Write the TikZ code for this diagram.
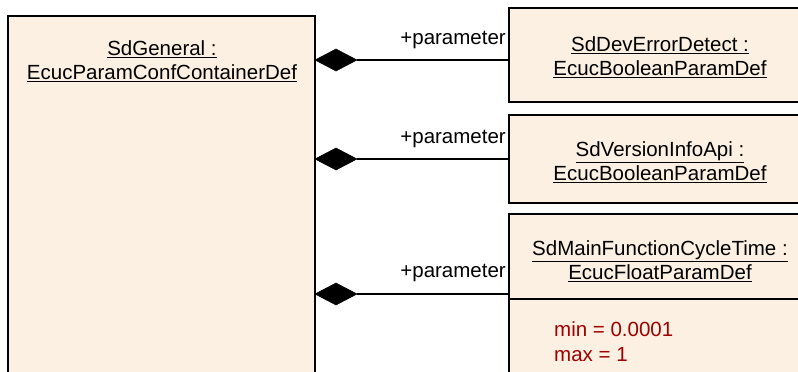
\documentclass[tikz,border=0pt]{standalone}
\usepackage{fontspec}
\setmainfont{Liberation Sans}
\definecolor{boxfill}{RGB}{251,240,225}
\definecolor{attr}{RGB}{160,0,0}
\begin{document}
\begin{tikzpicture}[x=1pt,y=-1pt,
  box/.style={draw=black, line width=1.8pt, fill=boxfill, anchor=north west, inner sep=0pt, outer sep=0pt},
  ttl/.style={font=\fontsize{20.5}{24}\selectfont, align=center, inner sep=0pt},
  role/.style={font=\fontsize{20.5}{24}\selectfont, anchor=east, inner sep=0pt},
  attrtxt/.style={font=\fontsize{20.5}{24}\selectfont, text=attr, anchor=west, inner sep=0pt},
  conn/.style={draw=black, line width=1.3pt},
  diam/.style={fill=black, draw=black, line width=0.5pt}]
\useasboundingbox (0,0) rectangle (798,372);
\clip (0,0) rectangle (798,372);
% boxes
\node[box, minimum width=307pt, minimum height=380pt] (gen) at (8,16) {};
\node[box, minimum width=310pt, minimum height=94pt] (dev) at (509,8) {};
\node[box, minimum width=310pt, minimum height=88pt] (ver) at (509,115) {};
\node[box, minimum width=310pt, minimum height=200pt] (mft) at (509,214) {};
\coordinate (divl) at (509,299);
\coordinate (divr) at (819,299);
\draw[line width=1.8pt] (divl) -- (divr);
% titles
\node[ttl] (gent) at (162,61) {\underline{SdGeneral :}\\\underline{EcucParamConfContainerDef}};
\node[ttl] (devt) at (660,57) {\underline{SdDevErrorDetect :}\\\underline{EcucBooleanParamDef}};
\node[ttl] (vert) at (660,162) {\underline{SdVersionInfoApi :}\\\underline{EcucBooleanParamDef}};
\node[ttl] (mftt) at (660,261) {\underline{SdMainFunctionCycleTime :}\\\underline{EcucFloatParamDef}};
\node[attrtxt] (amin) at (554,329) {min = 0.0001};
\node[attrtxt] (amax) at (554,355) {max = 1};
% connectors
\coordinate (c1) at (315,60);
\coordinate (c2) at (315,159);
\coordinate (c3) at (315,294);
\coordinate (d1) at (357,60);
\coordinate (d2) at (357,159);
\coordinate (d3) at (357,294);
\foreach \c/\d/\b in {c1/d1/dev, c2/d2/ver, c3/d3/mft}{
  \fill[diam] (\c) -- ++(21,-11) -- (\d) -- ++(-21,11) -- cycle;
  \draw[conn] (\d) -- (\d -| \b.west);
}
\node[role] (r1) at (506,40) {+parameter};
\node[role] (r2) at (506,139) {+parameter};
\node[role] (r3) at (506,273) {+parameter};
\end{tikzpicture}
\end{document}
